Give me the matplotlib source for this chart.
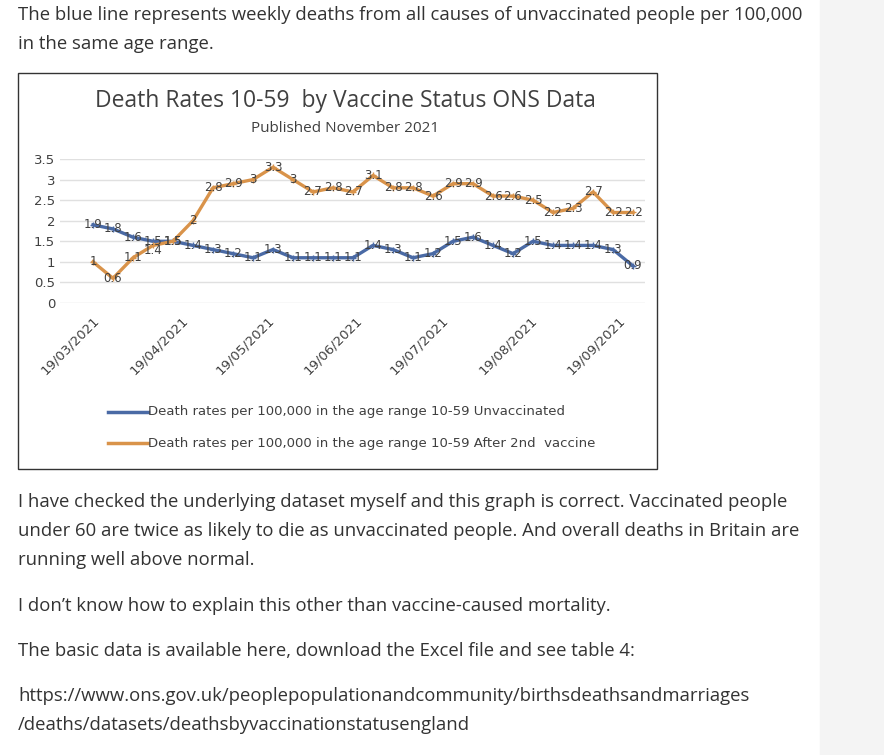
import matplotlib
matplotlib.use("Agg")
import matplotlib.pyplot as plt
from matplotlib.patches import Rectangle
from matplotlib.lines import Line2D
import datetime as dt

start = dt.date(2021, 3, 19)
unvacc = [1.9,1.8,1.6,1.5,1.5,1.4,1.3,1.2,1.1,1.3,1.1,1.1,1.1,1.1,1.4,1.3,1.1,1.2,1.5,1.6,1.4,1.2,1.5,1.4,1.4,1.4,1.3,0.9]
vacc2 = [1,0.6,1.1,1.4,1.5,2,2.8,2.9,3,3.3,3,2.7,2.8,2.7,3.1,2.8,2.8,2.6,2.9,2.9,2.6,2.6,2.5,2.2,2.3,2.7,2.2,2.2]
tick_labels = ["19/03/2021","19/04/2021","19/05/2021","19/06/2021","19/07/2021","19/08/2021","19/09/2021"]

W, H = 884, 755
fig = plt.figure(figsize=(W/100, H/100), dpi=100)
fig.patch.set_facecolor("white")
fig.add_artist(Rectangle((820/W, 0), 64/W, 1, transform=fig.transFigure, color="#f4f4f4", zorder=0))
fig.add_artist(Rectangle((18/W, 1-469/H), 639/W, 396/H, transform=fig.transFigure,
                         facecolor="white", edgecolor="#333333", lw=1, zorder=1))

txt = dict(fontsize=13.3, color="#333333", family="Open Sans", va="center", ha="left")
def T(x, y, s): fig.text(x/W, 1-y/H, s, **txt)
T(18, 15, "The blue line represents weekly deaths from all causes of unvaccinated people per 100,000")
T(18, 44, "in the same age range.")
T(18, 502, "I have checked the underlying dataset myself and this graph is correct. Vaccinated people")
T(18, 531, "under 60 are twice as likely to die as unvaccinated people. And overall deaths in Britain are")
T(18, 560, "running well above normal.")
T(18, 606, "I don’t know how to explain this other than vaccine-caused mortality.")
T(18, 651, "The basic data is available here, download the Excel file and see table 4:")
T(18, 696, "https://www.ons.gov.uk/peoplepopulationandcommunity/birthsdeathsandmarriages")
T(18, 725, "/deaths/datasets/deathsbyvaccinationstatusengland")

fig.text(345/W, 1-101/H, "Death Rates 10-59  by Vaccine Status ONS Data", fontsize=16.5, color="#404040",
         ha="center", va="center", family="Open Sans", zorder=3)
fig.text(345/W, 1-128/H, "Published November 2021", fontsize=11, color="#404040",
         ha="center", va="center", family="Open Sans", zorder=3)

ax = fig.add_axes([60/W, 1-303/H, 585/W, 144/H], zorder=2)
ax.set_facecolor("none")
xs = list(range(len(unvacc)))
ax.set_xlim(-1.65, 27.6)
ax.set_ylim(0, 3.5)
ax.set_yticks([0,0.5,1,1.5,2,2.5,3,3.5])
ax.set_yticklabels(["0","0.5","1","1.5","2","2.5","3","3.5"], fontsize=9.5, color="#404040")
ax.grid(axis="y", color="#e0e0e0", lw=1)
for s in ax.spines.values(): s.set_visible(False)
ax.tick_params(length=0)
blue, orange = "#4a6aa5", "#d9934a"
ax.plot(xs, unvacc, color=blue, lw=2.4, marker="+", ms=5, mew=1)
ax.plot(xs, vacc2, color=orange, lw=2.4, marker="+", ms=5, mew=1)
for x, a, b in zip(xs, unvacc, vacc2):
    ax.text(x, a, f"{a:g}", fontsize=8.5, color="#404040", ha="center", va="center")
    dy = -0.12 if x == 3 else 0
    ax.text(x, b + dy, f"{b:g}", fontsize=8.5, color="#404040", ha="center", va="center")
tpos = []
for lbl in tick_labels:
    d = dt.datetime.strptime(lbl, "%d/%m/%Y").date()
    tpos.append((d - start).days / 7)
ax.set_xticks(tpos)
ax.set_xticklabels(tick_labels, rotation=45, ha="right", rotation_mode="anchor", fontsize=9.5, color="#404040")
ax.tick_params(axis="x", pad=8)

for y, lbl, c in [(412, "Death rates per 100,000 in the age range 10-59 Unvaccinated", blue),
                  (443, "Death rates per 100,000 in the age range 10-59 After 2nd  vaccine", orange)]:
    fig.add_artist(Line2D([108/W, 148/W], [1-y/H, 1-y/H], color=c, lw=2.5, zorder=3))
    fig.text(148/W, 1-y/H, lbl, fontsize=9.5, color="#404040", va="center", ha="left", zorder=3)

fig.savefig("out.png", dpi=100)
